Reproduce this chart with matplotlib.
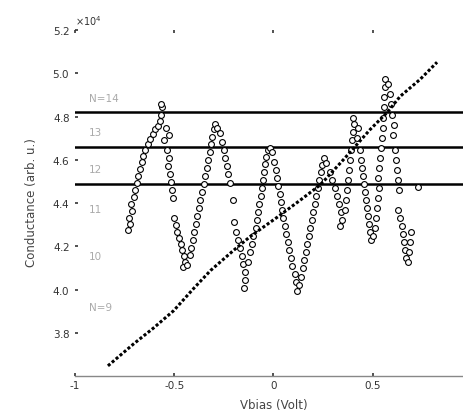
import matplotlib
matplotlib.use("Agg")
import matplotlib.pyplot as plt
from matplotlib.ticker import ScalarFormatter

# ---- data ----
line_x = [-0.834, -0.704, -0.603, -0.503, -0.402, -0.317, -0.201, -0.116, 0.020,
          0.136, 0.236, 0.352, 0.487, 0.573, 0.638, 0.739, 0.824]
line_y = [3.647, 3.749, 3.823, 3.902, 4.005, 4.088, 4.181, 4.246, 4.335,
          4.414, 4.484, 4.600, 4.740, 4.819, 4.893, 4.972, 5.051]

circ_x = [
    # branch 1 up
    -0.734, -0.724, -0.729, -0.714, -0.719, -0.704, -0.698, -0.688, -0.683, -0.673,
    -0.663, -0.658, -0.648, -0.633, -0.623, -0.608, -0.598, -0.583, -0.573, -0.568,
    -0.563, -0.568, -0.543, -0.528, -0.553,
    # branch 1 down
    -0.538, -0.528, -0.533, -0.523, -0.518, -0.513, -0.508, -0.503, -0.492, -0.487,
    -0.477, -0.467, -0.462, -0.452, -0.447, -0.457, -0.437,
    # branch 2 up
    -0.422, -0.417, -0.407, -0.402, -0.392, -0.387, -0.377, -0.372, -0.362, -0.352,
    -0.347, -0.337, -0.332, -0.322, -0.317, -0.312, -0.302, -0.297, -0.286, -0.271,
    # branch 2 down
    -0.261, -0.251, -0.246, -0.236, -0.231, -0.221, -0.206, -0.201, -0.191, -0.181,
    -0.171, -0.161, -0.156, -0.146, -0.141, -0.151,
    # branch 3 up
    -0.126, -0.116, -0.106, -0.101, -0.090, -0.085, -0.080, -0.075, -0.065, -0.060,
    -0.055, -0.050, -0.045, -0.040, -0.030, -0.020, -0.005,
    # branch 3 down
    0.005, 0.015, 0.020, 0.025, 0.035, 0.040, 0.045, 0.050, 0.060, 0.065,
    0.075, 0.080, 0.090, 0.095, 0.106, 0.111, 0.116, 0.131,
    # branch 4 up
    0.141, 0.151, 0.156, 0.166, 0.171, 0.181, 0.186, 0.196, 0.201, 0.211,
    0.216, 0.226, 0.231, 0.241, 0.246, 0.256, 0.266,
    # branch 4 down
    0.286, 0.296, 0.312, 0.322, 0.332, 0.342, 0.347, 0.337,
    # branch 5 up
    0.362, 0.367, 0.372, 0.377, 0.382, 0.387, 0.392, 0.397, 0.402, 0.407,
    0.402, 0.427, 0.422,
    # branch 5 down
    0.437, 0.442, 0.447, 0.452, 0.457, 0.462, 0.467, 0.472, 0.477, 0.482,
    0.487, 0.492, 0.503,
    # branch 6 up
    0.513, 0.518, 0.523, 0.528, 0.533, 0.528, 0.533, 0.538, 0.543, 0.548,
    0.553, 0.553, 0.558, 0.558, 0.563, 0.563, 0.578, 0.588,
    # branch 6 down
    0.593, 0.598, 0.608, 0.603, 0.613, 0.618, 0.623, 0.628, 0.633, 0.628,
    0.638, 0.648, 0.653, 0.658, 0.663, 0.668, 0.678, 0.683, 0.688, 0.693,
    0.729,
]
circ_y = [
    4.274, 4.302, 4.330, 4.363, 4.395, 4.428, 4.460, 4.493, 4.526, 4.558,
    4.591, 4.619, 4.647, 4.674, 4.698, 4.721, 4.740, 4.758, 4.781, 4.809,
    4.842, 4.860, 4.749, 4.716, 4.693,
    4.647, 4.609, 4.572, 4.535, 4.498, 4.460, 4.423, 4.330, 4.298, 4.265,
    4.237, 4.209, 4.181, 4.153, 4.126, 4.102, 4.112,
    4.158, 4.191, 4.228, 4.265, 4.302, 4.340, 4.377, 4.414, 4.451, 4.488,
    4.526, 4.563, 4.600, 4.637, 4.674, 4.707, 4.740, 4.767, 4.749, 4.726,
    4.684, 4.647, 4.609, 4.572, 4.535, 4.493, 4.414, 4.312, 4.265, 4.228,
    4.191, 4.153, 4.116, 4.079, 4.042, 4.009,
    4.126, 4.172, 4.209, 4.247, 4.284, 4.321, 4.358, 4.395, 4.433, 4.470,
    4.507, 4.544, 4.581, 4.614, 4.647, 4.656, 4.637,
    4.591, 4.553, 4.516, 4.479, 4.442, 4.405, 4.367, 4.330, 4.293, 4.256,
    4.219, 4.181, 4.144, 4.107, 4.070, 4.033, 3.995, 4.019,
    4.060, 4.098, 4.135, 4.172, 4.209, 4.247, 4.284, 4.321, 4.358, 4.395,
    4.433, 4.470, 4.507, 4.544, 4.577, 4.609, 4.586,
    4.544, 4.507, 4.470, 4.433, 4.395, 4.358, 4.321, 4.293,
    4.367, 4.414, 4.460, 4.507, 4.553, 4.600, 4.647, 4.693, 4.730, 4.767,
    4.795, 4.749, 4.702,
    4.647, 4.600, 4.563, 4.526, 4.488, 4.451, 4.414, 4.377, 4.340, 4.302,
    4.265, 4.228, 4.247,
    4.284, 4.330, 4.377, 4.423, 4.470, 4.516, 4.563, 4.609, 4.656, 4.702,
    4.749, 4.795, 4.842, 4.888, 4.935, 4.972, 4.949, 4.902,
    4.856, 4.809, 4.763, 4.716, 4.647, 4.600, 4.553, 4.507, 4.460, 4.367,
    4.330, 4.293, 4.256, 4.219, 4.181, 4.144, 4.126, 4.172, 4.219, 4.265,
    4.474,
]

hlines = [4.819, 4.660, 4.488]
n_labels = ["N=14", "13", "12", "11", "10", "N=9"]
n_label_y = [4.879, 4.726, 4.553, 4.367, 4.149, 3.916]

xticks = [-1, -0.5, 0, 0.5, 1]
xtick_labels = ["-1", "-0.5", "0", "0.5", ""]
yticks = [3.8, 4.0, 4.2, 4.4, 4.6, 4.8, 5.0, 5.2]
xlabel = "Vbias (Volt)"
ylabel = "Conductance (arb. u.)"
SCALE = 1e4

fig = plt.figure(figsize=(4.64, 4.19), dpi=100)
ax = fig.add_axes([0.1616, 0.1026, 0.8556, 0.8258])

for h in hlines:
    ax.axhline(h * SCALE, color="black", lw=1.8, zorder=1)

ax.plot(circ_x, [v * SCALE for v in circ_y], linestyle="none", marker="o",
        ms=4.2, mfc="white", mec="black", mew=0.8, zorder=2)
ax.plot(line_x, [v * SCALE for v in line_y], color="black", lw=2.2,
        linestyle=(0, (1.0, 0.7)), zorder=3)

for lab, yy in zip(n_labels, n_label_y):
    ax.text(-0.93, yy * SCALE, lab, color="#aaaaaa", fontsize=7.5,
            ha="left", va="center")

ax.set_xlim(-1, 1)
ax.set_ylim(3.6 * SCALE, 5.2 * SCALE)
ax.set_xticks(xticks)
ax.set_xticklabels(xtick_labels)
ax.set_yticks([t * SCALE for t in yticks])
fmt = ScalarFormatter(useMathText=True)
fmt.set_powerlimits((0, 0))
ax.yaxis.set_major_formatter(fmt)
ax.yaxis.get_offset_text().set_fontsize(7)
ax.yaxis.get_offset_text().set_color("#333333")

for s in ["left", "top", "right"]:
    ax.spines[s].set_visible(False)
ax.spines["bottom"].set_color("#888888")
ax.spines["bottom"].set_linewidth(1.0)
ax.tick_params(axis="both", direction="in", length=2.5, width=1.2,
               labelsize=7.5, labelcolor="#333333", color="#333333",
               top=True, right=False)
ax.set_xlabel(xlabel, fontsize=8.5, color="#444444", labelpad=6)
ax.set_ylabel(ylabel, fontsize=8.5, color="#444444", labelpad=10)

fig.savefig("out.png", dpi=100)
